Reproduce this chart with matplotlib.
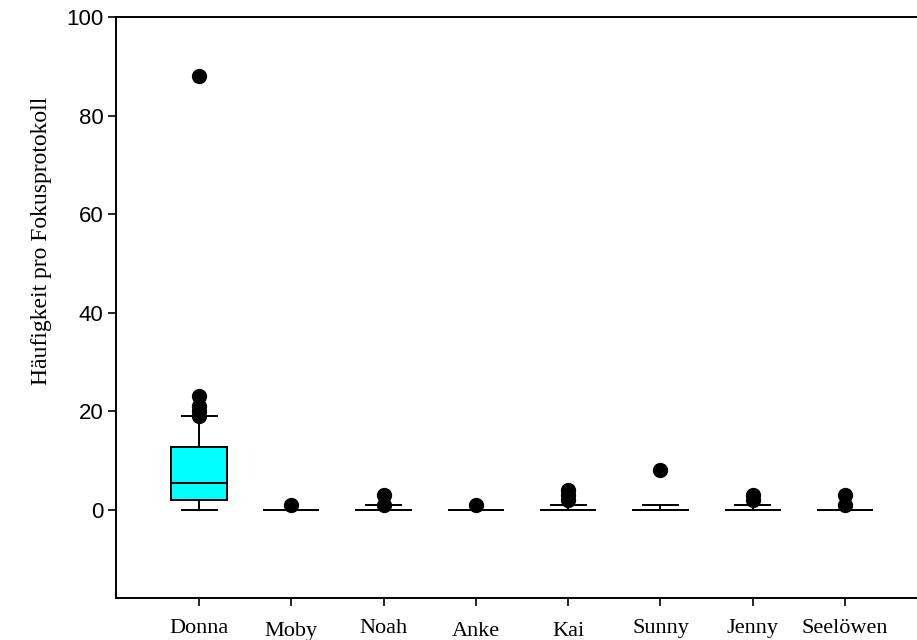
import matplotlib
matplotlib.use("Agg")
import matplotlib.pyplot as plt
import matplotlib.transforms as mtransforms
import numpy as np

# values
names = ["Donna", "Moby", "Noah", "Anke", "Kai", "Sunny", "Jenny", "Seelöwen"]
q1 = [2.0, 0, 0, 0, 0, 0, 0, 0]
med = [5.5, 0, 0, 0, 0, 0, 0, 0]
q3 = [12.7, 0, 0, 0, 0, 0, 0, 0]
whislo = [0, 0, 0, 0, 0, 0, 0, 0]
whishi = [19, 0, 1, 0, 1, 1, 1, 0]
fliers = [[19, 20, 21, 23, 88], [1], [1, 3], [1], [2, 3, 4], [8], [2, 3], [1, 3]]
yticks = [0, 20, 40, 60, 80, 100]
# labels that sit a bit lower in the original
low_labels = ["Moby", "Anke", "Kai"]

stats = []
for i in range(len(names)):
    stats.append({"label": names[i], "q1": q1[i], "med": med[i], "q3": q3[i],
                  "whislo": whislo[i], "whishi": whishi[i], "fliers": fliers[i]})

fig = plt.figure(figsize=(9.17, 6.4), dpi=100)
ax = fig.add_axes([116/917, 42/640, 1 - 116/917, (598-17)/640])

bp = ax.bxp(stats, positions=np.arange(1, len(names)+1), widths=0.61, capwidths=0.38,
            patch_artist=True,
            boxprops=dict(facecolor="white", edgecolor="black", linewidth=1.4),
            medianprops=dict(color="black", linewidth=1.4),
            whiskerprops=dict(color="black", linewidth=1.4),
            capprops=dict(color="black", linewidth=1.4),
            flierprops=dict(marker="o", markerfacecolor="black", markeredgecolor="black",
                            markersize=10, linestyle="none"))
bp["boxes"][0].set_facecolor("#00FFFF")

ax.set_xlim(0.1, 8.78)
ax.set_ylim(-17.9, 100)
ax.set_yticks(yticks)
ax.set_yticklabels([str(t) for t in yticks], fontfamily="Liberation Sans", fontsize=16)
ax.set_xticks(np.arange(1, len(names)+1))
ax.set_xticklabels(names, fontfamily="Liberation Serif", fontsize=16)

ax.spines["right"].set_visible(False)
for s in ["left", "bottom", "top"]:
    ax.spines[s].set_linewidth(1.4)
ax.tick_params(axis="y", direction="out", length=6, width=1.2, pad=3)
ax.tick_params(axis="x", direction="out", length=6, width=1.2, pad=9)

for lab in ax.get_xticklabels():
    if lab.get_text() in low_labels:
        lab.set_transform(lab.get_transform() + mtransforms.ScaledTranslation(0, -3/100, fig.dpi_scale_trans))

ax.set_ylabel("Häufigkeit pro Fokusprotokoll", fontfamily="Liberation Serif", fontsize=17)
ax.yaxis.set_label_coords(-0.08, 0.615)

fig.savefig("out.png", dpi=100)
